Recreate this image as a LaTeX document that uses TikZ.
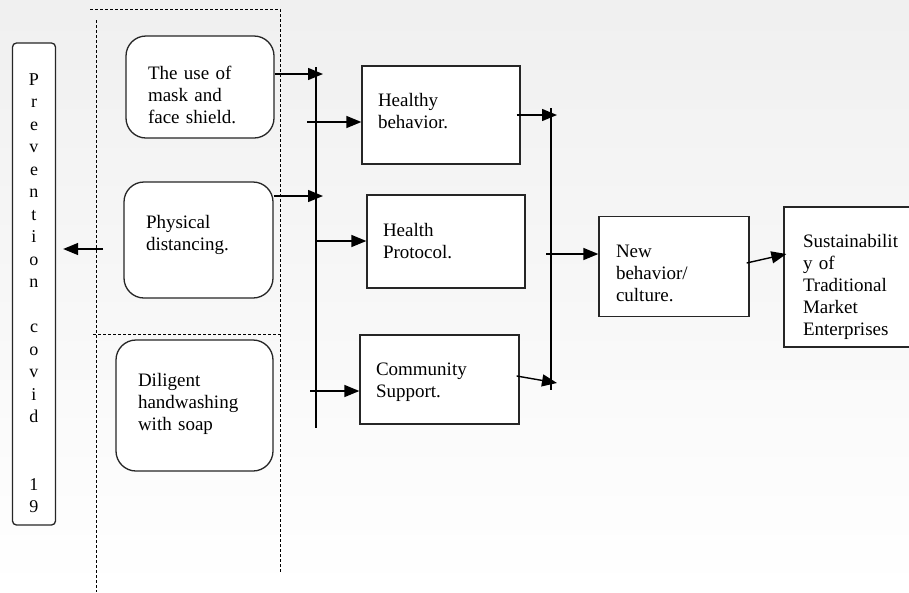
\documentclass[tikz,border=0pt]{standalone}
\usepackage{fontspec}
\setmainfont{Liberation Serif}
\usetikzlibrary{shapes,arrows.meta,positioning,calc}

\begin{document}
\begin{tikzpicture}[x=1pt,y=-1pt,
	font=\fontsize{19}{22}\selectfont,
	firstline/.style={text height=0pt,text depth=#1},
	roundbox/.style={draw=black!85,line width=1.3pt,fill=white,rounded corners=20pt,align=left,inner xsep=22pt},
	squarebox/.style={draw=black!85,line width=1.3pt,fill=white,align=left,inner xsep=16pt},
	bus/.style={line width=1.4pt},
	link/.style={line width=1.4pt,-{Triangle[length=15pt,width=12pt]}},
	group/.style={line width=0.9pt,dash pattern=on 3pt off 2pt}]
	% background
	\shade[top color=gray!12,bottom color=white] (0,0) rectangle (909,592);
	\useasboundingbox (0,0) rectangle (909,592);
	% dashed grouping
	\draw[group] (90,9) -- (280,9) -- (280,572);
	\draw[group] (96,20) -- (96,592);
	\draw[group] (93,334) -- (280,334);
	% left column
	\node[draw=black!85,line width=1.3pt,fill=white,rounded corners=4pt,minimum width=43pt,minimum height=482pt,inner sep=0pt,
		text width=43pt,align=center,firstline=398pt,font=\fontsize{18}{22.5}\selectfont] (prev) at (34,284)
		{P\\r\\e\\v\\e\\n\\t\\i\\o\\n\\\mbox{}\\c\\o\\v\\i\\d\\\mbox{}\\\mbox{}\\1\\9};
	\node[roundbox,text width=104pt,minimum height=102pt,firstline=15pt] (mask) at (200,87) {The use of\\mask and\\face shield.};
	\node[roundbox,text width=105pt,minimum height=116pt,firstline=24pt] (dist) at (198.5,240) {Physical\\distancing.};
	\node[roundbox,text width=113pt,minimum height=131pt,firstline=39pt] (wash) at (194.5,405.5) {Diligent\\handwashing\\with soap};
	% middle column
	\node[squarebox,text width=126pt,minimum height=98pt,firstline=18pt] (healthy) at (441,115) {Healthy\\behavior.};
	\node[squarebox,text width=126pt,minimum height=93pt,firstline=11pt] (protocol) at (446,241.5) {Health\\Protocol.};
	\node[squarebox,text width=127pt,minimum height=89pt,firstline=9pt] (support) at (439.5,379.5) {Community\\Support.};
	% right column
	\node[squarebox,inner xsep=17pt,text width=116pt,minimum height=100pt,firstline=18pt] (newbeh) at (674,266.5) {New\\behavior/\\culture.};
	\node[squarebox,inner xsep=19pt,text width=104pt,minimum height=140pt,firstline=60pt] (sustain) at (855,277) {Sustainabilit\\y of\\Traditional\\Market\\Enterprises};
	% buses
	\coordinate (busAtop) at (316,67);
	\coordinate (busAbot) at (316,428);
	\coordinate (busBtop) at (551,108);
	\coordinate (busBbot) at (551,390);
	\draw[bus] (busAtop) -- (busAbot);
	\draw[bus] (busBtop) -- (busBbot);
	% arrows
	\coordinate (pa) at (103,249);
	\draw[link] (pa) -- ([xshift=7pt]prev.east |- pa);
	\draw[link] (mask.east |- 0,74) -- (323,74);
	\draw[link] (dist.east |- 0,196) -- (323,196);
	\draw[link] (307,122) -- (healthy.west |- 0,122);
	\draw[link] (busAtop |- 0,241) -- (protocol.west |- 0,241);
	\draw[link] (310,391) -- (support.west |- 0,391);
	\draw[link] ([xshift=-4pt]healthy.east |- 0,115) -- (557,115);
	\draw[link] ([xshift=-3pt]support.east |- 0,376) -- (557,383);
	\draw[link] (546,254) -- (newbeh.west |- 0,254);
	\draw[link] ([xshift=-3pt]newbeh.east |- 0,263) -- ([xshift=3pt]sustain.west |- 0,254);
\end{tikzpicture}
\end{document}
